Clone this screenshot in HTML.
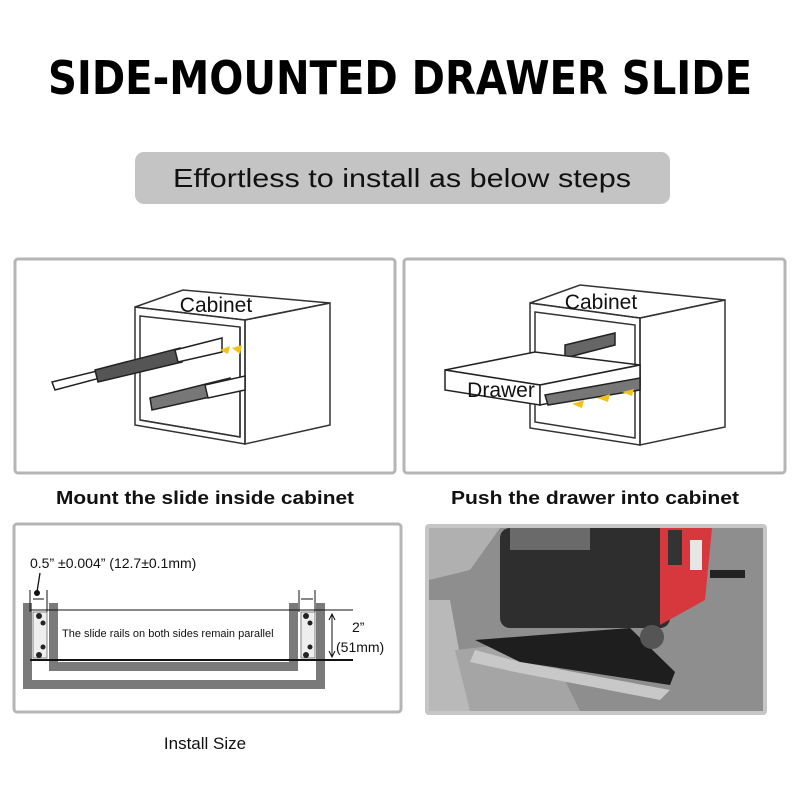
<!DOCTYPE html>
<html><head><meta charset="utf-8"><style>html,body{margin:0;padding:0;background:#fff}svg{display:block}</style></head>
<body>
<svg width="800" height="800" viewBox="0 0 800 800" xmlns="http://www.w3.org/2000/svg" font-family="Liberation Sans, DejaVu Sans, sans-serif">
<rect width="800" height="800" fill="#fff"/>
<text x="400" y="94" text-anchor="middle" font-size="46" font-weight="bold" font-family="DejaVu Sans, sans-serif" textLength="704" lengthAdjust="spacingAndGlyphs">SIDE-MOUNTED DRAWER SLIDE</text>
<rect x="135" y="152" width="535" height="52" rx="9" fill="#c4c4c4"/>
<text x="402" y="187" text-anchor="middle" font-size="26" fill="#111" textLength="458" lengthAdjust="spacingAndGlyphs">Effortless to install as below steps</text>

<!-- panel 1 -->
<rect x="15" y="259" width="380" height="214" rx="3" fill="#fff" stroke="#b5b5b5" stroke-width="3"/>
<g fill="none" stroke="#333" stroke-width="1.5">
<polygon points="135,307 183,290 330,303 245,320"/>
<polygon points="135,307 245,320 245,444 135,425"/>
<polygon points="245,320 330,303 330,425 245,444"/>
<polygon points="140,316 240,327 240,437 140,420"/>
<line x1="240" y1="327" x2="240" y2="437"/>
<line x1="140" y1="420" x2="240" y2="437"/>
</g>
<text x="216" y="312" text-anchor="middle" font-size="21" fill="#111">Cabinet</text>
<g stroke="#222" fill="#fff" stroke-width="1.5">
<polygon points="52,382 130,363 130,370 55,390"/>
<polygon points="95,370 180,348 182,362 98,382" fill="#555"/>
<polygon points="175,350 222,338 222,352 178,362"/>
<polygon points="150,398 230,378 232,392 152,410" fill="#777"/>
<polygon points="205,385 245,376 245,390 208,398"/>
</g>
<g fill="#f1c21b"><polygon points="220,350 230,346 228,354"/><polygon points="232,348 242,345 240,354"/></g>
<text x="205" y="504" text-anchor="middle" font-size="18" fill="#111" font-weight="bold" textLength="298" lengthAdjust="spacingAndGlyphs">Mount the slide inside cabinet</text>

<!-- panel 2 -->
<rect x="404" y="259" width="381" height="214" rx="3" fill="#fff" stroke="#b5b5b5" stroke-width="3"/>
<g fill="none" stroke="#333" stroke-width="1.5">
<polygon points="530,303 580,285 725,300 640,318"/>
<polygon points="530,303 640,318 640,445 530,428"/>
<polygon points="640,318 725,300 725,427 640,445"/>
<polygon points="535,312 635,325 635,438 535,422"/>
</g>
<g stroke="#222" stroke-width="1.5" fill="#fff">
<polygon points="565,345 615,333 615,345 565,358" fill="#666"/>
<polygon points="445,370 535,352 640,365 540,385"/>
<polygon points="445,370 540,385 540,405 445,390"/>
<polygon points="540,385 640,365 640,385 540,405"/>
<polygon points="545,395 640,378 640,390 548,405" fill="#777"/>
</g>
<g fill="#f1c21b"><polygon points="572,404 584,400 582,408"/><polygon points="597,398 610,394 608,402"/><polygon points="622,392 634,389 632,396"/></g>
<text x="601" y="309" text-anchor="middle" font-size="21" fill="#111">Cabinet</text>
<text x="501" y="397" text-anchor="middle" font-size="21" fill="#111">Drawer</text>
<text x="595" y="504" text-anchor="middle" font-size="18" fill="#111" font-weight="bold" textLength="288" lengthAdjust="spacingAndGlyphs">Push the drawer into cabinet</text>

<!-- panel 3 -->
<rect x="14" y="524" width="387" height="188" rx="3" fill="#fff" stroke="#b5b5b5" stroke-width="3"/>
<text x="30" y="568" font-size="14" fill="#111">0.5”  ±0.004”  (12.7±0.1mm)</text>
<line x1="40" y1="573" x2="37" y2="592" stroke="#111" stroke-width="1.3"/>
<circle cx="37" cy="593" r="3" fill="#111"/>
<g fill="#7a7a7a">
<rect x="23" y="603" width="9" height="85"/>
<rect x="23" y="680" width="302" height="9"/>
<rect x="316" y="603" width="9" height="85"/>
<rect x="49" y="603" width="9" height="68"/>
<rect x="49" y="662" width="242" height="9"/>
<rect x="289" y="603" width="9" height="68"/>
</g>
<g stroke="#111" stroke-width="1">
<line x1="30" y1="590" x2="30" y2="612"/><line x1="47" y1="590" x2="47" y2="612"/>
<line x1="299" y1="590" x2="299" y2="612"/><line x1="315" y1="590" x2="315" y2="612"/>
<line x1="33" y1="599" x2="44" y2="599"/><line x1="301" y1="599" x2="313" y2="599"/>
<line x1="30" y1="610" x2="353" y2="610"/>
<line x1="332" y1="615" x2="332" y2="656"/>
<polyline points="329,620 332,614 335,620" fill="none"/><polyline points="329,651 332,657 335,651" fill="none"/>
</g>
<line x1="30" y1="660" x2="353" y2="660" stroke="#111" stroke-width="2"/>
<g fill="#eee" stroke="#666" stroke-width="0.8">
<rect x="33" y="612" width="14" height="46"/><rect x="301" y="612" width="14" height="46"/>
</g>
<g fill="#222"><circle cx="39" cy="616" r="3"/><circle cx="43" cy="623" r="2.5"/><circle cx="43" cy="647" r="2.5"/><circle cx="39" cy="655" r="3"/>
<circle cx="306" cy="616" r="3"/><circle cx="310" cy="623" r="2.5"/><circle cx="310" cy="647" r="2.5"/><circle cx="306" cy="655" r="3"/></g>
<text x="62" y="637" font-size="11" fill="#111">The slide rails on both sides remain parallel</text>
<text x="352" y="632" font-size="14" fill="#111">2”</text>
<text x="336" y="652" font-size="14" fill="#111">(51mm)</text>
<text x="205" y="749" text-anchor="middle" font-size="17" fill="#111">Install Size</text>

<!-- photo -->
<rect x="425" y="524" width="342" height="191" rx="4" fill="#c6c6c6"/>
<rect x="429" y="528" width="334" height="183" fill="#8e8e8e"/>
<polygon points="429,528 500,528 470,570 429,580" fill="#b0b0b0"/>
<polygon points="429,600 450,600 470,711 429,711" fill="#b9b9b9"/>
<polygon points="455,650 545,640 580,711 470,711" fill="#a5a5a5"/>
<rect x="500" y="528" width="170" height="100" rx="10" fill="#2e2e2e"/>
<rect x="510" y="528" width="80" height="22" fill="#6a6a6a"/>
<polygon points="660,528 712,528 705,600 660,625" fill="#d6383d"/>
<rect x="668" y="530" width="14" height="35" fill="#333"/>
<rect x="690" y="540" width="12" height="30" fill="#e6e6e6"/>
<polygon points="475,640 630,628 675,672 670,685 520,662" fill="#1e1e1e"/>
<polygon points="475,650 520,662 670,690 660,700 515,672 470,662" fill="#c8c8c8"/>
<circle cx="652" cy="637" r="12" fill="#555"/>
<rect x="710" y="570" width="35" height="8" fill="#222"/>
</svg>
</body></html>
